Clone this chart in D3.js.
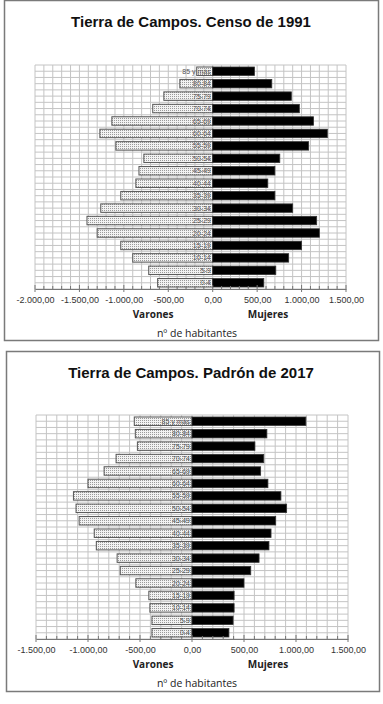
<!DOCTYPE html>
<html><head><meta charset="utf-8">
<script src="https://cdn.jsdelivr.net/npm/d3@7"></script>
<style>
body{margin:0;background:#fff;}
svg{display:block;}
</style></head>
<body>
<svg id="c" width="383" height="704"></svg>
<script>
const categories = ["85 y más","80-84","75-79","70-74","65-69","60-64","55-59","50-54","45-49","40-44","35-39","30-34","25-29","20-24","15-19","10-14","5-9","0-4"];
const varones1991 = [-180,-370,-550,-675,-1135,-1270,-1090,-775,-830,-865,-1035,-1260,-1415,-1300,-1035,-900,-720,-620];
const mujeres1991 = [470,665,885,975,1135,1290,1080,755,700,620,700,900,1170,1200,1000,855,710,575];
const varones2017 = [-555,-545,-525,-730,-845,-1000,-1140,-1115,-1085,-940,-920,-720,-690,-540,-415,-405,-385,-385];
const mujeres2017 = [1095,720,605,690,660,730,855,910,805,760,740,645,565,500,405,405,395,355];
const ticks1991 = [-2000,-1500,-1000,-500,0,500,1000,1500];
const ticks2017 = [-1500,-1000,-500,0,500,1000,1500];
const titles = ["Tierra de Campos. Censo de 1991","Tierra de Campos. Padrón de 2017"];
const seriesNames = ["Varones","Mujeres"];
const axisTitle = "nº de habitantes";

const svg = d3.select("#c");
const defs = svg.append("defs");
const pat = defs.append("pattern").attr("id","dots").attr("patternUnits","userSpaceOnUse").attr("width",2).attr("height",2);
pat.append("rect").attr("width",2).attr("height",2).attr("fill","#f2f2f2");
pat.append("rect").attr("width",1).attr("height",1).attr("fill","#9a9a9a");

const fmt = v => {
  const s = d3.format(",.2f")(v).replace("−","-");
  return s.replace(/,/g,"#").replace(".",",").replace(/#/g,".");
};

function drawChart(o){
  const g = svg.append("g");
  g.append("rect").attr("x",o.box[0]+0.5).attr("y",o.box[1]+0.5).attr("width",o.box[2]).attr("height",o.box[3])
    .attr("fill","#fff").attr("stroke","#7a7a7a").attr("stroke-width",1.5);
  g.append("text").attr("x",191).attr("y",o.titleY).attr("text-anchor","middle")
    .attr("font-family","Liberation Sans, Arial, sans-serif").attr("font-weight","bold").attr("font-size",15)
    .attr("fill","#111").text(o.title);

  const x = d3.scaleLinear().domain(o.domain).range([o.x0,o.x1]);
  const y = d3.scaleBand().domain(categories).range([o.y0,o.y1]).paddingInner(0.32).paddingOuter(0.16);
  const step = (o.y1-o.y0)/categories.length;

  // grid vertical every 100
  const vgrid = d3.range(o.domain[0], o.domain[1]+1, 100);
  g.append("g").selectAll("line").data(vgrid).join("line")
    .attr("x1",d=>x(d)).attr("x2",d=>x(d)).attr("y1",o.y0).attr("y2",o.y1)
    .attr("stroke","#c4c4c4").attr("stroke-width",1);
  const hgrid = d3.range(0, categories.length*2+1);
  g.append("g").selectAll("line").data(hgrid).join("line")
    .attr("x1",o.x0).attr("x2",o.x1).attr("y1",d=>o.y0+d*step/2).attr("y2",d=>o.y0+d*step/2)
    .attr("stroke","#c4c4c4").attr("stroke-width",1);

  // bars
  g.append("g").selectAll("rect").data(categories).join("rect")
    .attr("x",(d,i)=>x(o.men[i])).attr("width",(d,i)=>x(0)-x(o.men[i]))
    .attr("y",d=>y(d)).attr("height",y.bandwidth())
    .attr("fill","url(#dots)").attr("stroke","#555").attr("stroke-width",1);
  g.append("g").selectAll("rect").data(categories).join("rect")
    .attr("x",x(0)).attr("width",(d,i)=>x(o.women[i])-x(0))
    .attr("y",d=>y(d)).attr("height",y.bandwidth())
    .attr("fill","#000").attr("stroke","#333").attr("stroke-width",0.8);

  // category labels
  g.append("g").selectAll("text").data(categories).join("text")
    .attr("x",x(0)-2).attr("y",d=>y(d)+y.bandwidth()/2+2.5).attr("text-anchor","end")
    .attr("font-family","Liberation Sans, Arial, sans-serif").attr("font-size",7).attr("fill","#555")
    .text(d=>d);

  // axis
  const ax = g.append("g").attr("transform",`translate(0,${o.y1})`)
    .call(d3.axisBottom(x).tickValues(o.ticks).tickSize(0).tickPadding(8).tickFormat(fmt));
  ax.select(".domain").attr("stroke","#777");
  ax.selectAll("text").attr("font-family","Liberation Sans, Arial, sans-serif").attr("font-size",9).attr("fill","#333");
  g.append("g").selectAll("line").data(o.ticks).join("line")
    .attr("x1",d=>x(d)).attr("x2",d=>x(d)).attr("y1",o.y1-4).attr("y2",o.y1+3).attr("stroke","#777");
  g.append("g").selectAll("line").data(vgrid.filter(v=>v%500!==0)).join("line")
    .attr("x1",d=>x(d)).attr("x2",d=>x(d)).attr("y1",o.y1-3).attr("y2",o.y1).attr("stroke","#777");

  g.append("text").attr("x",153).attr("y",o.y1+29).attr("text-anchor","middle")
    .attr("font-family","Open Sans, sans-serif").attr("font-weight","bold").attr("font-size",10).attr("fill","#222").text(seriesNames[0]);
  g.append("text").attr("x",268).attr("y",o.y1+29).attr("text-anchor","middle")
    .attr("font-family","Open Sans, sans-serif").attr("font-weight","bold").attr("font-size",10).attr("fill","#222").text(seriesNames[1]);
  g.append("text").attr("x",197).attr("y",o.y1+48).attr("text-anchor","middle")
    .attr("font-family","Open Sans, sans-serif").attr("font-size",10.5).attr("fill","#222").text(axisTitle);
}

drawChart({box:[4,0,374,340],titleY:27,title:titles[0],domain:[-2000,1500],x0:35,x1:346,y0:65,y1:289,
  men:varones1991,women:mujeres1991,ticks:ticks1991});
drawChart({box:[6,351,373,340],titleY:378,title:titles[1],domain:[-1500,1500],x0:36,x1:348,y0:415,y1:639,
  men:varones2017,women:mujeres2017,ticks:ticks2017});
</script>
</body></html>
